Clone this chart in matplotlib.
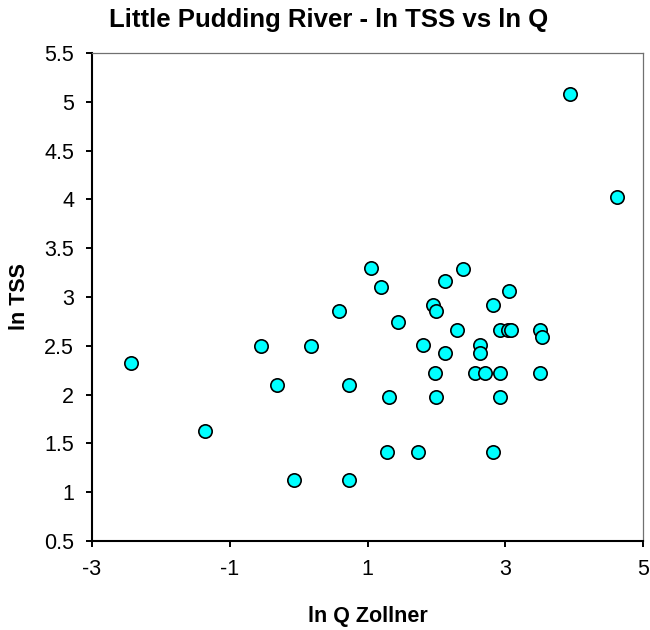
import matplotlib
matplotlib.use("Agg")
import matplotlib.pyplot as plt
from matplotlib.ticker import FuncFormatter

plt.rcParams['font.family'] = ['Liberation Sans', 'DejaVu Sans']

title = "Little Pudding River - ln TSS vs ln Q"
x_label = "ln Q Zollner"
y_label = "ln TSS"

ln_q = [3.94, 4.62, 1.05, 2.38, 2.12, 1.19, 3.05, 1.95, 2.00, 2.82,
        0.58, 1.45, 2.30, 2.93, 3.04, 3.09, 3.51, 3.54, 1.80, 2.64,
        2.64, 2.12, -0.55, 0.18, -2.44, -0.32, 0.73, 1.98, 2.56, 2.70,
        2.93, 3.51, 1.31, 2.00, 2.93, -1.36, 1.28, 1.74, 2.82, -0.06, 0.73]
ln_tss = [5.08, 4.02, 3.30, 3.29, 3.16, 3.10, 3.06, 2.92, 2.86, 2.92,
          2.86, 2.74, 2.66, 2.66, 2.66, 2.66, 2.66, 2.59, 2.51, 2.51,
          2.43, 2.43, 2.50, 2.50, 2.32, 2.10, 2.10, 2.22, 2.22, 2.22,
          2.22, 2.22, 1.98, 1.98, 1.98, 1.63, 1.41, 1.41, 1.41, 1.12, 1.12]

x_ticks = [-3, -1, 1, 3, 5]
y_ticks = [0.5, 1, 1.5, 2, 2.5, 3, 3.5, 4, 4.5, 5, 5.5]

W, H = 650, 630
fig = plt.figure(figsize=(W / 100, H / 100), dpi=100)
left, right, top, bottom = 92, 643, 53, 541
ax = fig.add_axes([left / W, 1 - bottom / H, (right - left) / W, (bottom - top) / H])

ms = 9.6
ax.scatter(ln_q, ln_tss, s=ms ** 2, c='#00FFFF', edgecolors='black',
           linewidths=1.2, zorder=3, clip_on=False)

ax.set_xlim(-3, 5)
ax.set_ylim(0.5, 5.5)
ax.set_xticks(x_ticks)
ax.set_yticks(y_ticks)
ax.yaxis.set_major_formatter(FuncFormatter(lambda v, p: f"{v:g}"))
ax.xaxis.set_major_formatter(FuncFormatter(lambda v, p: f"{v:g}"))

ax.tick_params(axis='both', direction='out', length=4.3, width=1.4,
               color='black', labelsize=15.5, pad=8.5, labelcolor='black')
ax.tick_params(top=False, right=False)

for s in ('left', 'bottom'):
    ax.spines[s].set_color('black')
    ax.spines[s].set_linewidth(1.5)
for s in ('top', 'right'):
    ax.spines[s].set_color('#707070')
    ax.spines[s].set_linewidth(0.9)

fig.text(328.5 / W, 1 - 26.7 / H, title, ha='center', va='baseline',
         fontsize=18.5, fontweight='bold')
fig.text(367.5 / W, 1 - 622 / H, x_label, ha='center', va='baseline',
         fontsize=15.5, fontweight='bold')
fig.text(25 / W, 1 - 297 / H, y_label, ha='center', va='baseline',
         rotation=90, rotation_mode='anchor', fontsize=15.5, fontweight='bold')

fig.savefig("out.png", dpi=100)
